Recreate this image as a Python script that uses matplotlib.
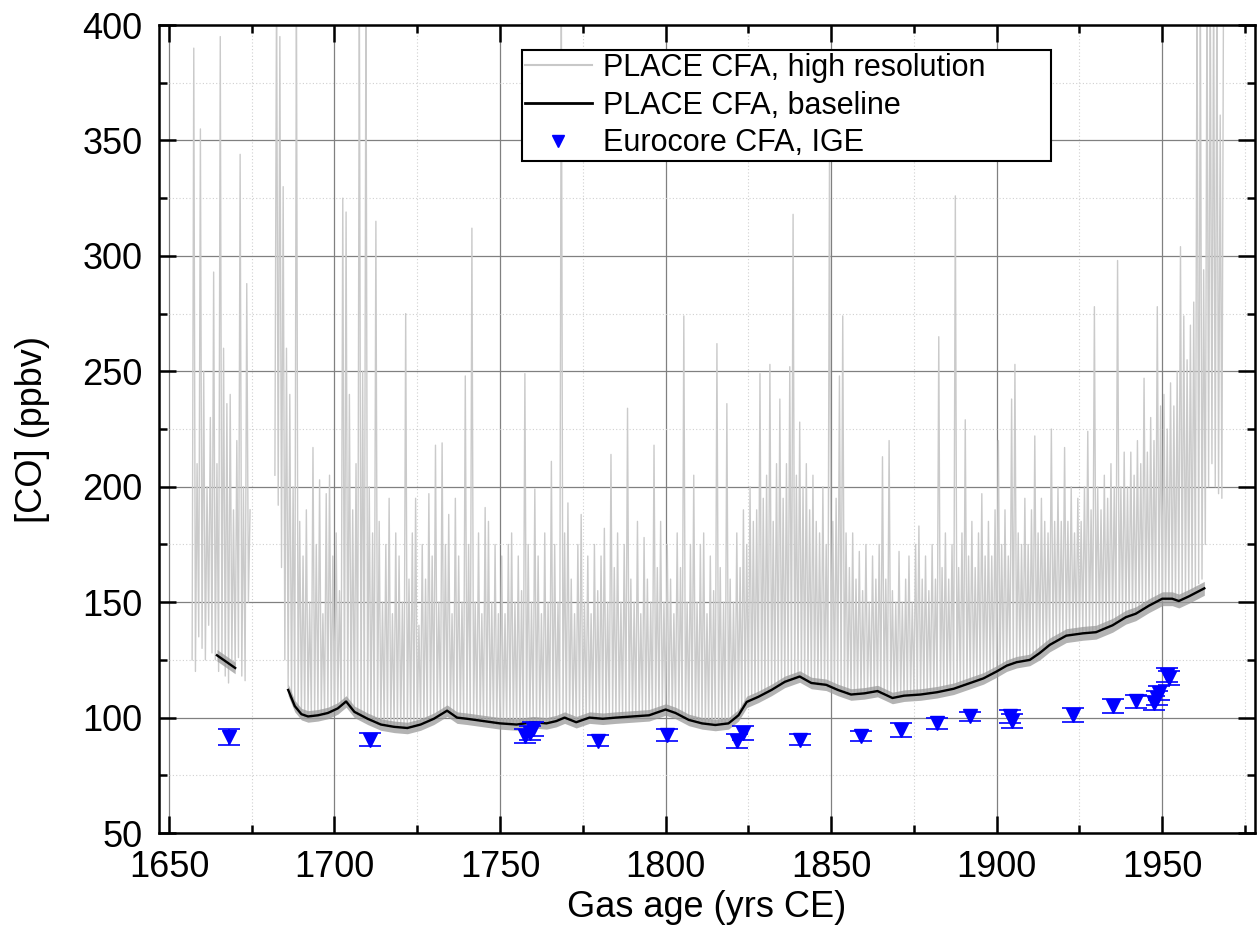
import numpy as np
import matplotlib.pyplot as plt
from matplotlib.lines import Line2D
from matplotlib.ticker import MultipleLocator

plt.rcParams['font.family'] = ['Liberation Sans', 'DejaVu Sans']

nan = np.nan

# PLACE CFA high resolution: lowest / highest value read per year, starting 1650
hr_first_year = 1650
hr_low = [
    nan, nan, nan, nan, nan, nan, nan, 125, 120, 135,
    130, 125, 140, 128, 125, 120, 125, 118, 115, 125,
    122, 126, 118, 116, 150, nan, nan, nan, nan, nan,
    nan, nan, 205, 192, 165, 125, 113, 108, 105, 103,
    101, 100, 101, 100, 101, 101, 102, 101, 102, 102,
    103, 104, 105, 107, 106, 104, 102, 101, 100, 99,
    99, 98, 98, 97, 97, 97, 96, 96, 96, 96,
    96, 95, 95, 96, 96, 97, 98, 98, 99, 100,
    101, 102, 102, 103, 103, 102, 101, 100, 100, 100,
    100, 99, 99, 99, 98, 98, 98, 98, 97, 97,
    97, 97, 97, 97, 97, 97, 97, 97, 97, 98,
    98, 98, 98, 98, 98, 98, 98, 99, 99, 100,
    99, 99, 99, 99, 99, 99, 99, 100, 100, 100,
    100, 100, 100, 100, 100, 100, 100, 100, 100, 100,
    100, 100, 100, 101, 101, 101, 101, 102, 102, 103,
    103, 103, 102, 102, 101, 100, 100, 99, 99, 98,
    98, 97, 97, 97, 97, 97, 97, 97, 97, 98,
    99, 101, 103, 105, 107, 108, 109, 110, 110, 111,
    111, 112, 113, 114, 114, 115, 115, 116, 117, 117,
    118, 118, 117, 116, 115, 115, 114, 114, 114, 113,
    113, 112, 112, 111, 111, 110, 110, 110, 110, 110,
    111, 111, 111, 111, 110, 110, 110, 109, 109, 109,
    109, 109, 109, 110, 110, 110, 110, 110, 111, 111,
    111, 112, 112, 112, 113, 113, 113, 114, 114, 114,
    114, 115, 116, 116, 117, 117, 118, 118, 119, 119,
    120, 121, 122, 122, 123, 124, 124, 124, 125, 125,
    125, 126, 127, 128, 129, 130, 131, 132, 133, 134,
    135, 135, 136, 136, 136, 136, 137, 137, 137, 137,
    137, 138, 138, 139, 140, 141, 141, 142, 143, 143,
    144, 144, 145, 146, 147, 148, 149, 150, 150, 151,
    151, 151, 151, 151, 151, 151, 152, 153, 154, 155,
    156, 158, 160, 175, 200, 210, 200, 197, 195, nan,
]
hr_high = [
    nan, nan, nan, nan, nan, nan, nan, 390, 210, 355,
    250, 200, 230, 293, 210, 395, 260, 236, 240, 190,
    220, 344, 200, 288, 190, nan, nan, nan, nan, nan,
    nan, nan, 420, 395, 330, 260, 240, 200, 420, 185,
    170, 190, 150, 217, 175, 203, 145, 197, 205, 170,
    180, 155, 325, 319, 240, 190, 210, 420, 250, 420,
    200, 180, 315, 185, 150, 175, 195, 145, 180, 170,
    150, 275, 160, 180, 195, 140, 175, 160, 197, 170,
    218, 150, 219, 175, 188, 145, 195, 170, 150, 248,
    175, 312, 150, 180, 145, 191, 185, 150, 175, 145,
    170, 145, 175, 180, 150, 170, 155, 249, 175, 150,
    199, 170, 145, 180, 150, 211, 175, 150, 420, 180,
    193, 160, 145, 175, 188, 150, 170, 145, 175, 155,
    170, 182, 150, 214, 165, 180, 150, 175, 234, 160,
    150, 185, 145, 178, 160, 150, 218, 165, 185, 150,
    175, 160, 145, 180, 165, 274, 150, 175, 205, 150,
    175, 180, 145, 170, 155, 262, 165, 150, 236, 160,
    150, 180, 165, 190, 175, 200, 185, 190, 249, 195,
    205, 253, 185, 210, 238, 195, 210, 252, 318, 205,
    228, 200, 210, 190, 205, 185, 180, 200, 175, 345,
    185, 195, 248, 274, 180, 165, 180, 160, 172, 155,
    175, 150, 170, 160, 175, 213, 160, 220, 155, 150,
    172, 150, 160, 170, 150, 175, 183, 160, 170, 155,
    175, 160, 265, 165, 180, 160, 175, 326, 165, 180,
    229, 170, 185, 165, 180, 197, 170, 185, 170, 190,
    220, 175, 190, 170, 238, 253, 180, 175, 195, 175,
    190, 222, 180, 195, 185, 180, 225, 185, 200, 185,
    217, 185, 200, 180, 195, 185, 200, 224, 190, 278,
    200, 190, 205, 195, 210, 200, 298, 200, 215, 200,
    215, 205, 220, 210, 247, 215, 230, 220, 278, 235,
    240, 225, 245, 235, 250, 304, 274, 255, 270, 280,
    420, 420, 294, 420, 420, 420, 420, 361, 420, nan,
]

# PLACE CFA baseline (two pieces) with its uncertainty
base1_year = [1664.5, 1667, 1670]
base1_co = [127, 124.5, 121.5]
base1_err = [2.5, 2.5, 2.5]

base_year = [1686, 1688, 1690, 1692, 1695, 1698, 1701, 1703.5, 1706, 1710,
             1714, 1718, 1722, 1726, 1730, 1734, 1737, 1740, 1745, 1750,
             1755, 1760, 1764, 1767, 1769.5, 1773, 1777, 1781, 1785, 1790,
             1795, 1800, 1803, 1807, 1811, 1815, 1819, 1822, 1824.5, 1828,
             1832, 1836, 1840.5, 1844, 1848.5, 1852, 1856, 1860, 1864, 1868.5,
             1872, 1877, 1882, 1887, 1891, 1896, 1900, 1903, 1906, 1910,
             1913, 1916, 1921, 1926, 1930, 1935, 1939, 1942, 1946, 1950,
             1953, 1955, 1958, 1962.7]
base_co = [112, 105, 101.5, 100.5, 101, 102, 104, 107, 102.5, 99.5,
           97, 96, 95.5, 97, 99.5, 103, 100, 99.5, 98.5, 97.5,
           97, 98, 97.5, 98.5, 100, 98, 100, 99.5, 100, 100.5,
           101, 103.5, 102, 99, 97.5, 96.8, 97.5, 101, 106.8, 109,
           112, 115.5, 117.8, 115, 114.2, 112, 110, 110.5, 111.5, 108.5,
           109.5, 110, 111, 112.5, 114.5, 117, 120, 122.5, 124, 125,
           128, 131.5, 135.5, 136.5, 137, 140, 143.5, 145, 148.5, 151.5,
           151.5, 150.5, 152.5, 156]
base_err = [2.5, 2.5, 2.5, 2.5, 2.5, 2.5, 2.5, 2.5, 2.5, 2.5,
            2.5, 2.5, 2.5, 2.5, 2.5, 2.5, 2.5, 2.5, 2.5, 2.5,
            2.5, 2.5, 2.5, 2.5, 2.5, 2.5, 2.5, 2.5, 2.5, 2.5,
            2.5, 2.5, 2.5, 2.5, 2.5, 2.5, 2.5, 2.5, 2.5, 2.5,
            2.5, 2.5, 2.5, 2.5, 2.5, 2.5, 2.5, 2.5, 2.5, 2.5,
            2.5, 2.5, 2.5, 2.5, 2.5, 2.5, 2.5, 2.5, 2.5, 2.5,
            3, 3, 3, 3, 3, 3, 3, 3, 3, 3,
            3, 3, 3, 3]

# Eurocore CFA, IGE
ige_year = [1668, 1710.7, 1757.5, 1759, 1760, 1779.5, 1800.5, 1821.5, 1823.5, 1840.5,
            1859, 1871, 1882, 1892, 1904, 1904.5, 1923, 1935, 1942, 1947.5,
            1948.5, 1949, 1951.5, 1952]
ige_co = [91.5, 90.5, 92, 93.5, 95, 90, 92.5, 90, 93.5, 90.5,
          92, 94.5, 97.5, 100.5, 100.5, 98.5, 101, 105, 107, 106.5,
          108.5, 110.5, 118.5, 117]
ige_err = [3.5, 3, 3, 3, 3, 2.5, 2.5, 3, 3, 2.5,
           2, 3, 2.5, 2, 3, 3, 3, 3, 3, 3,
           3, 3, 3, 3]

hr_low = np.array(hr_low, dtype=float)
hr_high = np.array(hr_high, dtype=float)
yrs = hr_first_year + np.arange(len(hr_low))
hr_x = np.column_stack([yrs, yrs + 0.5]).ravel()
hr_y = np.column_stack([hr_low, hr_high]).ravel()

fig = plt.figure(figsize=(12.58, 9.38), dpi=100)
ax = fig.add_axes([0.1264, 0.1119, 0.8712, 0.8614])

ax.plot(hr_x, hr_y, color='#cacaca', lw=1.0, zorder=2)
for yy, cc, ee in [(base1_year, base1_co, base1_err), (base_year, base_co, base_err)]:
    cc = np.array(cc)
    ee = np.array(ee)
    ax.fill_between(yy, cc - ee, cc + ee, color='#9a9a9a', alpha=0.75, lw=0, zorder=3)
    ax.plot(yy, cc, color='black', lw=1.7, zorder=4)
ax.errorbar(ige_year, ige_co, yerr=ige_err, fmt='v', color='blue', ms=9.5,
            capsize=8, elinewidth=1.2, capthick=1.2, zorder=5)

ax.set_xlim(1647, 1978)
ax.set_ylim(50, 400)
ax.xaxis.set_major_locator(MultipleLocator(50))
ax.xaxis.set_minor_locator(MultipleLocator(25))
ax.yaxis.set_major_locator(MultipleLocator(50))
ax.yaxis.set_minor_locator(MultipleLocator(25))
ax.tick_params(which='both', direction='in', top=True, right=True, width=1.8,
               labelsize=26)
ax.tick_params(axis='x', which='both', pad=12)
ax.tick_params(axis='y', which='both', pad=12)
ax.tick_params(which='major', length=12)
ax.tick_params(which='minor', length=6)
ax.grid(which='major', color='#808080', lw=0.9)
ax.grid(which='minor', color='#d0d0d0', lw=0.8, ls=(0, (1, 2)))
ax.set_axisbelow(True)
for s in ax.spines.values():
    s.set_linewidth(1.8)

ax.set_xlabel('Gas age (yrs CE)', fontsize=26, labelpad=4)
ax.set_ylabel('[CO] (ppbv)', fontsize=26, labelpad=23)

handles = [Line2D([], [], color='#c8c8c8', lw=1.5),
           Line2D([], [], color='black', lw=2),
           Line2D([], [], ls='none', marker='v', color='blue', ms=9)]
labels = ['PLACE CFA, high resolution', 'PLACE CFA, baseline', 'Eurocore CFA, IGE']
leg = ax.legend(handles, labels, loc='upper left', bbox_to_anchor=(0.331, 0.832, 0.483, 0.137),
                mode='expand', borderaxespad=0, fontsize=22, fancybox=False, framealpha=1,
                edgecolor='black', handlelength=2.2, handletextpad=0.35, labelspacing=0.25,
                borderpad=0.1)
leg.get_frame().set_linewidth(1.5)

fig.savefig('out.png', dpi=100)
